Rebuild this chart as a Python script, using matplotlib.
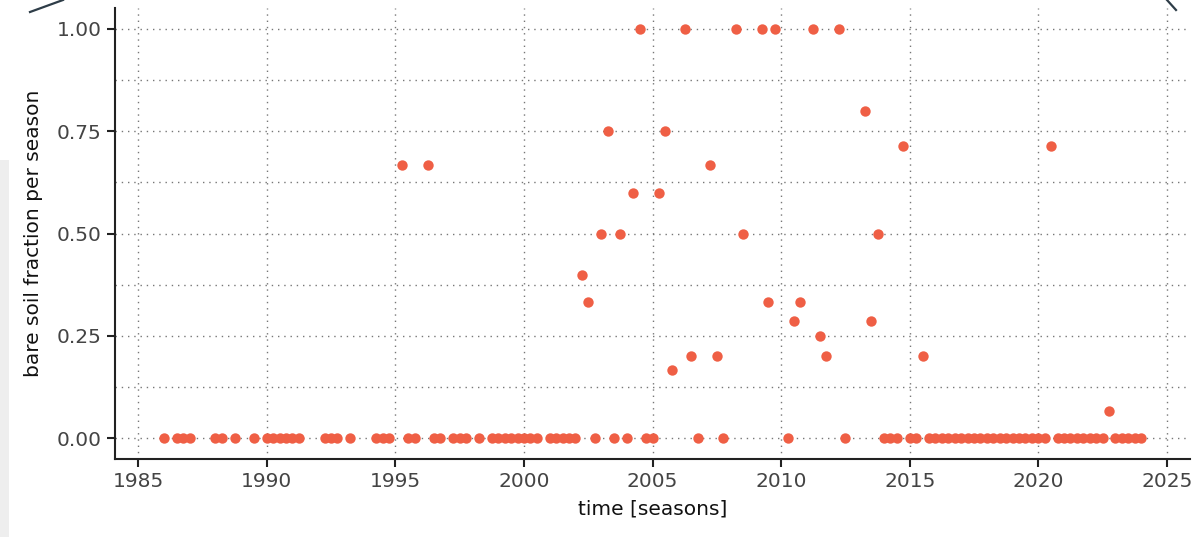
import matplotlib
matplotlib.use("Agg")
import matplotlib.pyplot as plt
from matplotlib.lines import Line2D
from matplotlib.patches import Rectangle
from matplotlib.ticker import MultipleLocator

# season (end of quarter, decimal years) and bare soil fraction for that season
season_time = [
    1986.0, 1986.5, 1986.75, 1987.0, 1988.0, 1988.25, 1988.75, 1989.5,
    1990.0, 1990.25, 1990.5, 1990.75, 1991.0, 1991.25,
    1992.25, 1992.5, 1992.75, 1993.25, 1994.25, 1994.5, 1994.75,
    1995.25, 1995.5, 1995.75, 1996.25, 1996.5, 1996.75,
    1997.25, 1997.5, 1997.75, 1998.25,
    1998.75, 1999.0, 1999.25, 1999.5, 1999.75, 2000.0, 2000.25, 2000.5,
    2001.0, 2001.25, 2001.5, 2001.75, 2002.0,
    2002.25, 2002.5, 2002.75, 2003.0, 2003.25, 2003.5, 2003.75,
    2004.0, 2004.25, 2004.5, 2004.75, 2005.0, 2005.25, 2005.5, 2005.75,
    2006.25, 2006.5, 2006.75, 2007.25, 2007.5, 2007.75,
    2008.25, 2008.5, 2009.25, 2009.5, 2009.75,
    2010.25, 2010.5, 2010.75, 2011.25, 2011.5, 2011.75,
    2012.25, 2012.5, 2013.25, 2013.5, 2013.75,
    2014.0, 2014.25, 2014.5, 2014.75, 2015.0, 2015.25, 2015.5,
    2015.75, 2016.0, 2016.25, 2016.5, 2016.75, 2017.0, 2017.25, 2017.5,
    2017.75, 2018.0, 2018.25, 2018.5, 2018.75, 2019.0, 2019.25, 2019.5,
    2019.75, 2020.0, 2020.25, 2020.5,
    2020.75, 2021.0, 2021.25, 2021.5, 2021.75, 2022.0, 2022.25, 2022.5,
    2022.75, 2023.0, 2023.25, 2023.5, 2023.75, 2024.0,
]
bare_fraction = [
    0, 0, 0, 0, 0, 0, 0, 0,
    0, 0, 0, 0, 0, 0,
    0, 0, 0, 0, 0, 0, 0,
    0.667, 0, 0, 0.667, 0, 0,
    0, 0, 0, 0,
    0, 0, 0, 0, 0, 0, 0, 0,
    0, 0, 0, 0, 0,
    0.4, 0.333, 0, 0.5, 0.75, 0, 0.5,
    0, 0.6, 1.0, 0, 0, 0.6, 0.75, 0.167,
    1.0, 0.2, 0, 0.667, 0.2, 0,
    1.0, 0.5, 1.0, 0.333, 1.0,
    0, 0.286, 0.333, 1.0, 0.25, 0.2,
    1.0, 0, 0.8, 0.286, 0.5,
    0, 0, 0, 0.714, 0, 0, 0.2,
    0, 0, 0, 0, 0, 0, 0, 0,
    0, 0, 0, 0, 0, 0, 0, 0,
    0, 0, 0, 0.714,
    0, 0, 0, 0, 0, 0, 0, 0,
    0.067, 0, 0, 0, 0, 0,
]

fig = plt.figure(figsize=(11.97, 5.37), dpi=100)
ax = fig.add_axes([0.0961, 0.1453, 0.8981, 0.8397])

ax.scatter(season_time, bare_fraction, s=56, color="#ef5f45", linewidths=0, zorder=3)

ax.xaxis.set_major_locator(MultipleLocator(5))
ax.yaxis.set_major_locator(MultipleLocator(0.25))
ax.yaxis.set_minor_locator(MultipleLocator(0.125))
ax.yaxis.set_major_formatter(matplotlib.ticker.FormatStrFormatter("%.2f"))

grid_kw = dict(color="#777777", linewidth=1.0, linestyle=(0, (1, 3.5)))
ax.grid(True, which="major", **grid_kw)
ax.grid(True, which="minor", axis="y", **grid_kw)
ax.set_axisbelow(True)

for side in ("top", "right"):
    ax.spines[side].set_visible(False)
for side in ("left", "bottom"):
    ax.spines[side].set_linewidth(1.5)
    ax.spines[side].set_color("#222222")

ax.tick_params(which="major", length=6, width=1.5, labelsize=14.5,
               labelcolor="#444444", color="#222222")
ax.tick_params(which="minor", length=0)

ax.set_xlabel("time [seasons]", fontsize=14.5, color="#111111", labelpad=6)
ax.set_ylabel("bare soil fraction per season", fontsize=14.5, color="#111111", labelpad=10)

# frame pieces around the panel
fig.add_artist(Line2D([30 / 1197, 63 / 1197], [1 - 12 / 537, 1.0],
                      transform=fig.transFigure, color="#2e3d48", linewidth=1.6))
fig.add_artist(Line2D([1167 / 1197, 1176 / 1197], [1.0, 1 - 10 / 537],
                      transform=fig.transFigure, color="#2e3d48", linewidth=1.6))
fig.add_artist(Rectangle((0, 0), 9 / 1197, 1 - 160 / 537, transform=fig.transFigure,
                         facecolor="#eeeeee", edgecolor="none", zorder=-1))

fig.savefig("out.png", dpi=100)
